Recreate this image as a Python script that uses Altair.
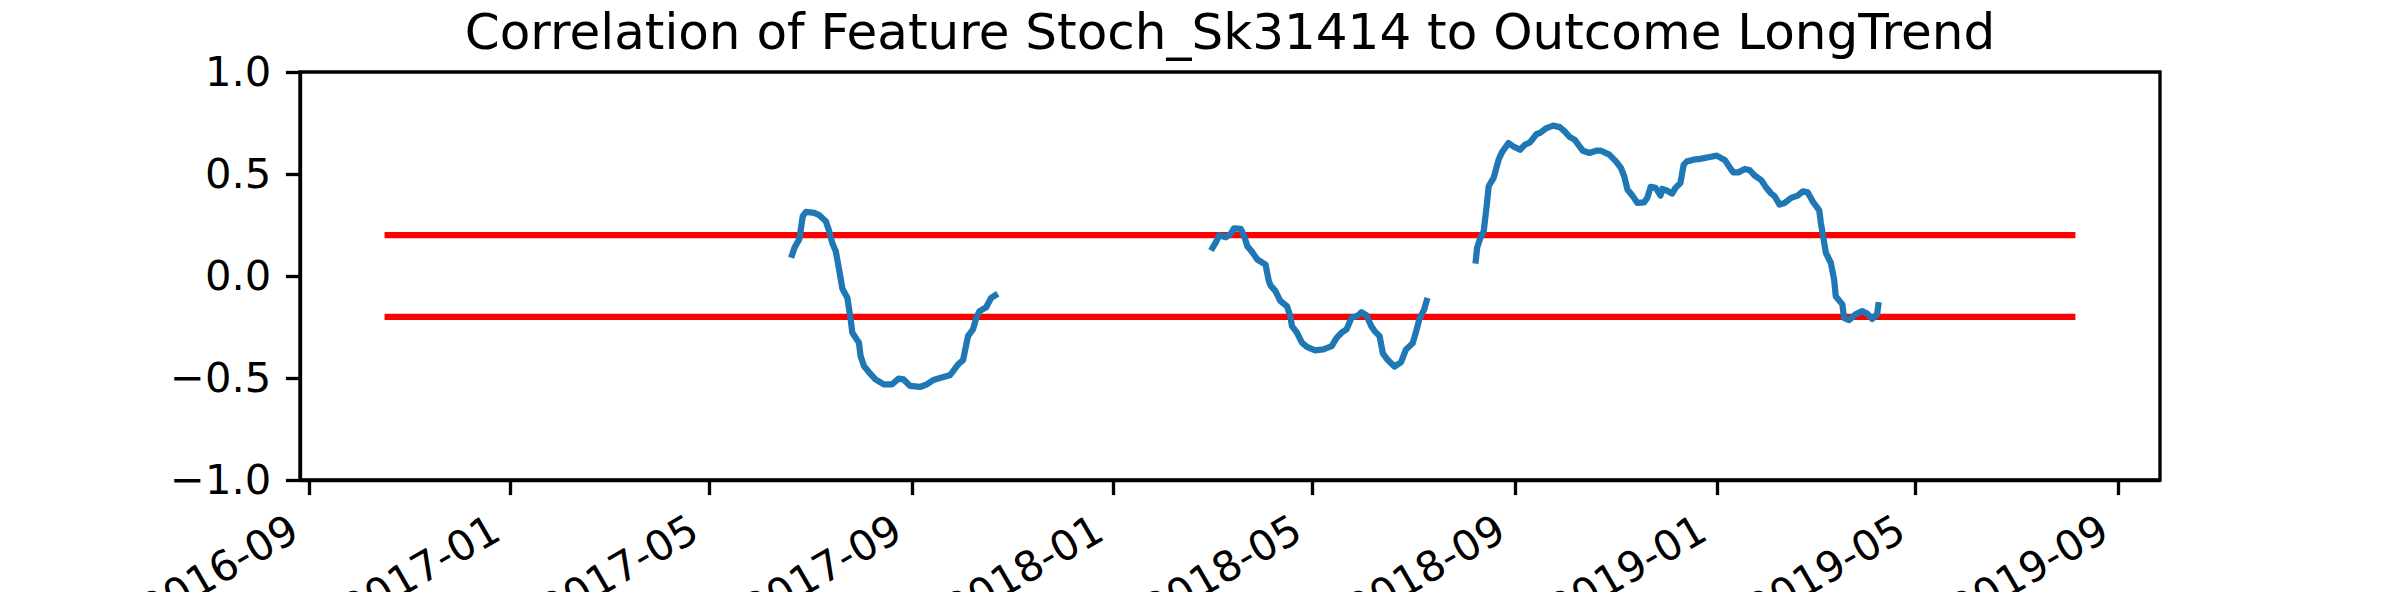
import pandas as pd
import altair as alt

# rolling correlation, three stretches with gaps in between
seg1_dates = ["2017-06-20", "2017-06-22", "2017-06-25", "2017-06-27", "2017-06-29",
              "2017-07-04", "2017-07-07", "2017-07-11", "2017-07-13", "2017-07-15",
              "2017-07-17", "2017-07-19", "2017-07-21", "2017-07-24", "2017-07-26",
              "2017-07-27", "2017-07-31", "2017-08-01", "2017-08-03", "2017-08-06",
              "2017-08-10", "2017-08-15", "2017-08-20", "2017-08-24", "2017-08-27",
              "2017-08-31", "2017-09-06", "2017-09-10", "2017-09-14", "2017-09-19",
              "2017-09-24", "2017-09-26", "2017-09-29", "2017-10-02", "2017-10-05",
              "2017-10-08", "2017-10-10", "2017-10-12", "2017-10-16", "2017-10-19",
              "2017-10-23"]
seg1_corr = [0.089, 0.138, 0.182, 0.293, 0.314,
             0.309, 0.298, 0.268, 0.219, 0.159,
             0.121, 0.032, -0.063, -0.107, -0.213,
             -0.278, -0.327, -0.392, -0.441, -0.471,
             -0.507, -0.531, -0.531, -0.503, -0.507,
             -0.539, -0.544, -0.531, -0.510, -0.498,
             -0.487, -0.466, -0.433, -0.412, -0.295,
             -0.262, -0.205, -0.172, -0.153, -0.107,
             -0.087]

seg2_dates = ["2018-03-01", "2018-03-04", "2018-03-06", "2018-03-10", "2018-03-13",
              "2018-03-15", "2018-03-19", "2018-03-21", "2018-03-23", "2018-03-26",
              "2018-03-29", "2018-04-03", "2018-04-05", "2018-04-06", "2018-04-09",
              "2018-04-12", "2018-04-16", "2018-04-18", "2018-04-19", "2018-04-22",
              "2018-04-25", "2018-04-28", "2018-05-03", "2018-05-08", "2018-05-13",
              "2018-05-16", "2018-05-19", "2018-05-22", "2018-05-25", "2018-05-29",
              "2018-05-31", "2018-06-03", "2018-06-06", "2018-06-08", "2018-06-11",
              "2018-06-13", "2018-06-16", "2018-06-20", "2018-06-24", "2018-06-27",
              "2018-07-01", "2018-07-03", "2018-07-05", "2018-07-08", "2018-07-10"]
seg2_corr = [0.125, 0.166, 0.200, 0.190, 0.208,
             0.234, 0.231, 0.198, 0.146, 0.117,
             0.081, 0.056, -0.025, -0.046, -0.074,
             -0.123, -0.148, -0.197, -0.246, -0.278,
             -0.327, -0.347, -0.365, -0.360, -0.344,
             -0.303, -0.278, -0.262, -0.205, -0.193,
             -0.177, -0.192, -0.246, -0.270, -0.295,
             -0.379, -0.412, -0.444, -0.422, -0.360,
             -0.330, -0.275, -0.213, -0.164, -0.107]

seg3_dates = ["2018-08-08", "2018-08-09", "2018-08-11", "2018-08-13", "2018-08-15",
              "2018-08-16", "2018-08-19", "2018-08-22", "2018-08-24", "2018-08-28",
              "2018-08-31", "2018-09-04", "2018-09-07", "2018-09-10", "2018-09-14",
              "2018-09-16", "2018-09-20", "2018-09-24", "2018-09-28", "2018-10-01",
              "2018-10-04", "2018-10-07", "2018-10-10", "2018-10-12", "2018-10-16",
              "2018-10-20", "2018-10-23", "2018-10-28", "2018-11-01", "2018-11-04",
              "2018-11-06", "2018-11-08", "2018-11-11", "2018-11-14", "2018-11-18",
              "2018-11-20", "2018-11-22", "2018-11-25", "2018-11-28", "2018-11-29",
              "2018-12-02", "2018-12-05", "2018-12-07", "2018-12-10", "2018-12-12",
              "2018-12-14", "2018-12-18", "2018-12-22", "2018-12-27", "2019-01-01",
              "2019-01-06", "2019-01-09", "2019-01-11", "2019-01-14", "2019-01-18",
              "2019-01-21", "2019-01-24", "2019-01-28", "2019-01-31", "2019-02-03",
              "2019-02-05", "2019-02-08", "2019-02-11", "2019-02-15", "2019-02-19",
              "2019-02-22", "2019-02-25", "2019-02-28", "2019-03-04", "2019-03-05",
              "2019-03-08", "2019-03-11", "2019-03-13", "2019-03-14", "2019-03-18",
              "2019-03-19", "2019-03-22", "2019-03-26", "2019-03-30", "2019-04-02",
              "2019-04-05", "2019-04-08", "2019-04-09"]
seg3_corr = [0.061, 0.138, 0.187, 0.219, 0.358,
             0.440, 0.481, 0.570, 0.606, 0.652,
             0.635, 0.619, 0.644, 0.655, 0.696,
             0.701, 0.725, 0.737, 0.730, 0.709,
             0.681, 0.668, 0.635, 0.614, 0.603,
             0.614, 0.614, 0.595, 0.562, 0.530,
             0.489, 0.423, 0.394, 0.358, 0.361,
             0.383, 0.437, 0.432, 0.394, 0.427,
             0.418, 0.404, 0.432, 0.456, 0.546,
             0.562, 0.570, 0.574, 0.582, 0.590,
             0.567, 0.530, 0.508, 0.508, 0.525,
             0.518, 0.492, 0.469, 0.432, 0.404,
             0.391, 0.350, 0.358, 0.383, 0.394,
             0.415, 0.410, 0.366, 0.322, 0.260,
             0.114, 0.065, -0.017, -0.099, -0.139,
             -0.205, -0.216, -0.188, -0.172, -0.184,
             -0.210, -0.188, -0.128]

# threshold lines
levels = [0.2, -0.2]
level_start = "2016-10-17"
level_end = "2019-08-06"

tick_months = [(2016, 9), (2017, 1), (2017, 5), (2017, 9), (2018, 1),
               (2018, 5), (2018, 9), (2019, 1), (2019, 5), (2019, 9)]

title_text = "Correlation of Feature Stoch_Sk31414 to Outcome LongTrend"

corr_df = pd.concat([
    pd.DataFrame({"date": seg1_dates, "corr": seg1_corr, "segment": 1}),
    pd.DataFrame({"date": seg2_dates, "corr": seg2_corr, "segment": 2}),
    pd.DataFrame({"date": seg3_dates, "corr": seg3_corr, "segment": 3}),
])
level_df = pd.DataFrame({"level": levels, "start": level_start, "end": level_end})

x_scale = alt.Scale(
    type="utc",
    domain=[alt.DateTime(year=2016, month=8, date=26, hours=20, utc=True),
            alt.DateTime(year=2019, month=9, date=26, hours=4, utc=True)],
)
x_axis = alt.Axis(
    values=[alt.DateTime(year=y, month=m, date=1, utc=True) for y, m in tick_months],
    labelExpr="utcFormat(datum.value, '%Y-%m')",
    labelAngle=330, labelAlign="right", labelBaseline="top",
    labelOffset=-24, labelPadding=14.6, labelOverlap=False, labelFlush=False,
    labelLimit=1000,
)
y_scale = alt.Scale(domain=[-1, 1], nice=False, zero=False)
y_axis = alt.Axis(values=[-1, -0.5, 0, 0.5, 1], format=".1f", labelPadding=14.6)

rules = alt.Chart(level_df).mark_rule(color="#ff0000", strokeWidth=6.25).encode(
    x=alt.X("start:T", scale=x_scale, axis=x_axis, title=None),
    x2="end:T",
    y=alt.Y("level:Q", scale=y_scale, axis=y_axis, title=None),
)

line = alt.Chart(corr_df).mark_line(color="#1f77b4", strokeWidth=6.25, strokeJoin="round").encode(
    x=alt.X("date:T", scale=x_scale, axis=x_axis, title=None),
    y=alt.Y("corr:Q", scale=y_scale, axis=y_axis, title=None),
    detail="segment:N",
)

chart = alt.layer(rules, line, title=title_text).properties(
    width=1860,
    height=408,
    autosize=alt.AutoSizeParams(type="none"),
    padding={"left": 292, "top": 64, "right": 232, "bottom": 112},
).configure_title(
    font="DejaVu Sans", fontSize=50, fontWeight="normal", color="black",
    anchor="middle", frame="group", baseline="alphabetic", offset=25, dy=32,
).configure_view(
    stroke="black", strokeWidth=3.33
).configure_axis(
    grid=False,
    domainColor="black", domainWidth=3.33,
    tickColor="black", tickWidth=3.33, tickSize=14.6,
    labelFont="DejaVu Sans", labelFontSize=41.7, labelColor="black",
)

chart.save("out.html", embed_options={"renderer": "svg", "actions": False})
